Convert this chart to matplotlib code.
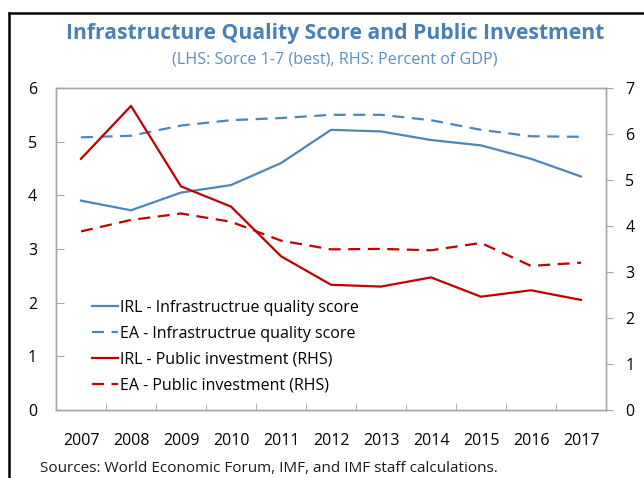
import matplotlib
matplotlib.use("Agg")
import matplotlib.pyplot as plt
import numpy as np

years = ["2007", "2008", "2009", "2010", "2011", "2012", "2013", "2014", "2015", "2016", "2017"]
irl_infra = [3.90, 3.72, 4.05, 4.19, 4.60, 5.22, 5.19, 5.03, 4.93, 4.68, 4.35]
ea_infra = [5.08, 5.11, 5.30, 5.40, 5.44, 5.50, 5.50, 5.40, 5.22, 5.10, 5.09]
irl_pi = [5.46, 6.61, 4.86, 4.42, 3.34, 2.72, 2.68, 2.88, 2.46, 2.60, 2.39]
ea_pi = [3.88, 4.13, 4.27, 4.09, 3.68, 3.49, 3.50, 3.47, 3.63, 3.13, 3.20]

labels = ["IRL - Infrastructrue quality score",
          "EA - Infrastructrue quality score",
          "IRL - Public investment (RHS)",
          "EA - Public investment (RHS)"]

FONT = ["Open Sans", "DejaVu Sans"]
plt.rcParams['font.family'] = FONT

BLUE = "#4e86b8"
RED = "#c00000"
GRAY = "#a6a6a6"

W, H = 644, 478
fig = plt.figure(figsize=(W / 100, H / 100), dpi=100)

ax = fig.add_axes([56 / W, 1 - 409.8 / H, 550 / W, (409.8 - 88) / H])
ax2 = ax.twinx()

x = np.arange(len(years))
lw = 1.6
dash = (5.4, 3.4)
l1, = ax.plot(x, irl_infra, color=BLUE, lw=lw)
l2, = ax.plot(x, ea_infra, color=BLUE, lw=lw, dashes=dash)
l3, = ax2.plot(x, irl_pi, color=RED, lw=lw)
l4, = ax2.plot(x, ea_pi, color=RED, lw=lw, dashes=dash)

ax.set_xlim(-0.5, len(years) - 0.5)
ax.set_ylim(0, 6)
ax2.set_ylim(0, 7)
ax.set_yticks(range(0, 7))
ax2.set_yticks(range(0, 8))
ax.set_xticks(x)
ax.set_xticklabels(years)
ax.set_xticks(np.arange(-0.5, len(years) - 0.4, 1)[1:-1], minor=True)

for a in (ax, ax2):
    for s in a.spines.values():
        s.set_color(GRAY)
        s.set_linewidth(1.0)

ax.tick_params(axis='x', which='major', length=0, pad=17, labelsize=11.5, colors='black')
ax.tick_params(axis='x', which='minor', direction='in', length=5, color=GRAY)
ax.tick_params(axis='y', direction='in', length=6, color=GRAY, labelsize=11.5)
ax2.tick_params(axis='y', direction='out', length=5, color=GRAY, pad=9, labelsize=11.5)
for lab in ax.get_yticklabels():
    lab.set_horizontalalignment('center')
ax.tick_params(axis='y', pad=17)

leg = ax.legend([l1, l2, l3, l4], labels, loc='lower left',
                bbox_to_anchor=(30 / 550, 10 / 322), frameon=False,
                fontsize=11.5, handlelength=1.6, handletextpad=0.12,
                labelspacing=0.62, borderaxespad=0)

fig.text(335 / W, 1 - 33 / H, "Infrastructure Quality Score and Public Investment",
         ha='center', va='center', fontsize=15.2, fontweight='bold', color="#4a80b3")
fig.text(335 / W, 1 - 59 / H, "(LHS: Sorce 1-7 (best), RHS: Percent of GDP)",
         ha='center', va='center', fontsize=11.6, color="#5b8fc0")
fig.text(40 / W, 1 - 469 / H, "Sources: World Economic Forum, IMF, and IMF staff calculations.",
         ha='left', va='center', fontsize=11, color="#1a1a1a")

# page border fragments
fig.add_artist(plt.Line2D([8.5 / W, 8.5 / W], [0, 1 - 12.5 / H], transform=fig.transFigure,
                          color='black', lw=1.8))
fig.add_artist(plt.Line2D([8.5 / W, 1], [1 - 12.5 / H, 1 - 12.5 / H], transform=fig.transFigure,
                          color='black', lw=1.8))

fig.savefig("out.png", dpi=100)
